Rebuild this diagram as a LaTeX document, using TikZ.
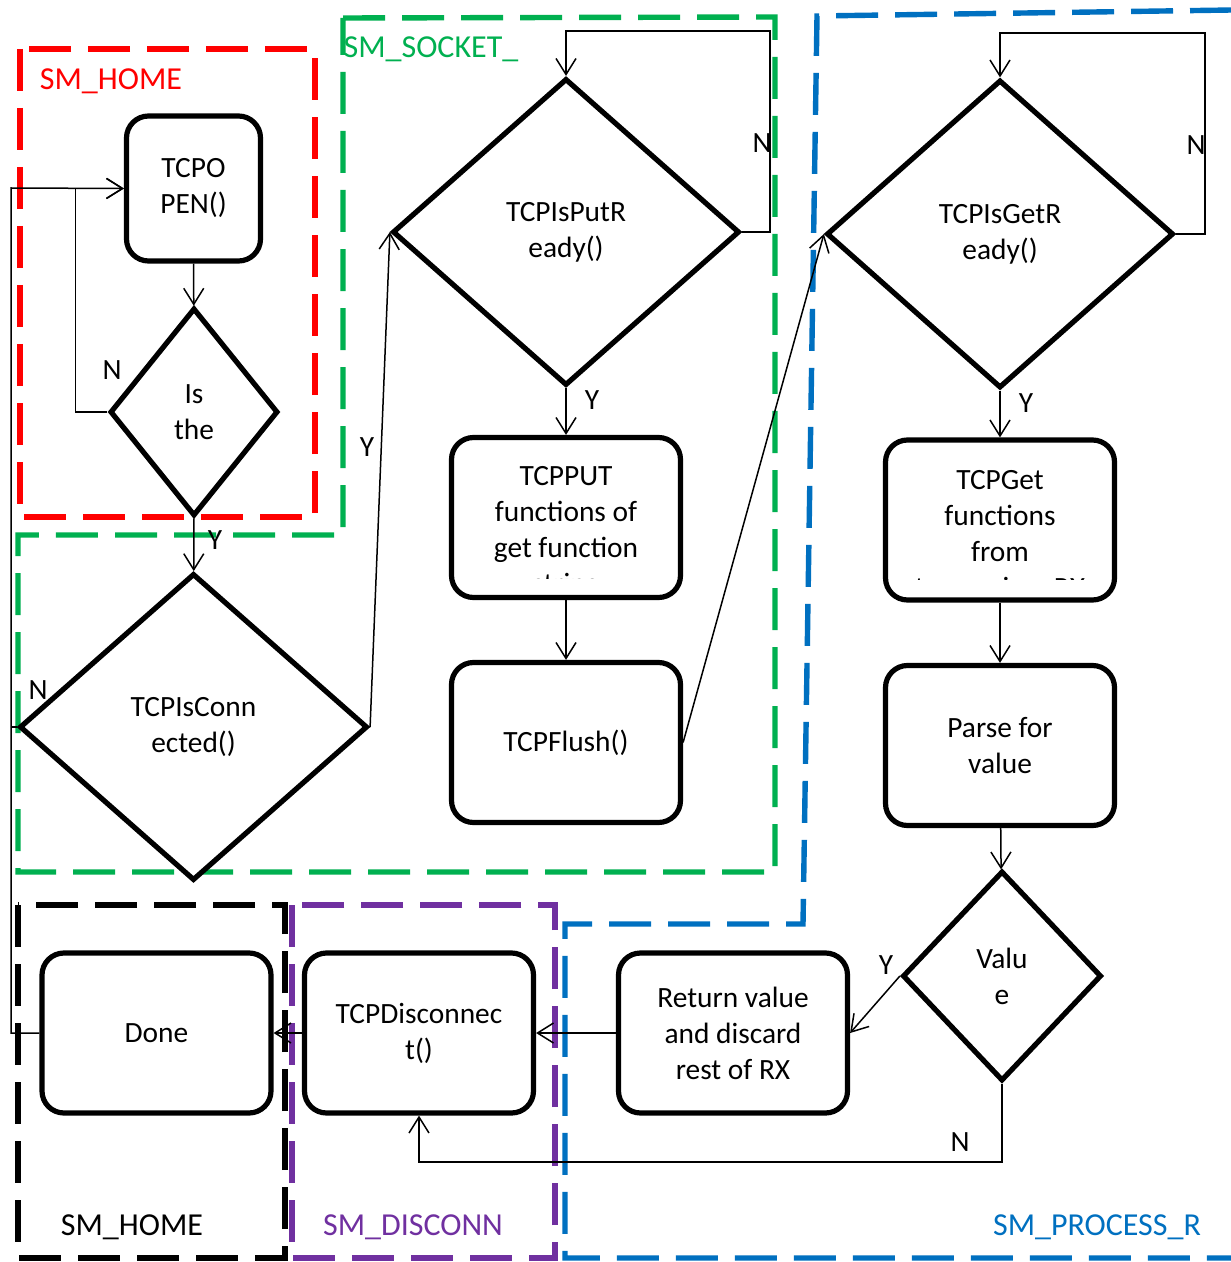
\documentclass[tikz,border=0pt]{standalone}
\usepackage{fontspec}
\setmainfont{Carlito}
\usetikzlibrary{shapes.geometric,arrows.meta}
\definecolor{cred}{RGB}{255,0,0}
\definecolor{cgreen}{RGB}{0,176,80}
\definecolor{cblue}{RGB}{0,112,192}
\definecolor{cpurple}{RGB}{112,48,160}
\newcommand{\fsmain}{\fontsize{14.7}{18}\selectfont}
\newcommand{\fsreg}{\fontsize{16}{19}\selectfont}
\begin{document}
\begin{tikzpicture}[x=0.5pt,y=-0.5pt,
  box/.style={draw, line width=2.6pt, rounded corners=11pt, fill=white, align=center, font=\fsmain, inner sep=0pt, minimum width=114.5pt, minimum height=80pt},
  dia/.style={draw, diamond, line width=2.6pt, fill=white, align=center, font=\fsmain, inner sep=0pt},
  txt/.style={align=center, font=\fsmain, inner sep=0pt},
  conn/.style={line width=0.75pt},
  arr/.style={conn, -{Straight Barb[length=8pt,width=10pt]}},
  region/.style={line width=2.7pt, dash pattern=on 21pt off 8.5pt},
  yn/.style={font=\fsmain, inner sep=0pt},
  reglabel/.style={font=\fsreg, inner sep=0pt}]
\useasboundingbox (0,0) rectangle (1230,1262);
\fill[white] (0,0) rectangle (1230,1262);

% regions
\draw[region,cred] (20,49) rectangle (315,517);
\draw[region,cgreen] (343,18) -- (775,17) -- (775,872) -- (18,872) -- (18,535) -- (343,535) -- cycle;
\draw[region,cblue] (1232,10) -- (817,16) -- (803,924) -- (565,924) -- (565,1258) -- (1232,1258);
\draw[region,black] (18,905) rectangle (285,1258);
\draw[region,cpurple] (292,905) rectangle (555,1258);

\node[reglabel,text=cred] (lhome) at (111,81) {SM\_HOME};
\node[reglabel,text=cgreen] (lsock) at (431,49) {SM\_SOCKET\_};
\node[reglabel,text=black] (lhome2) at (132,1227) {SM\_HOME};
\node[reglabel,text=cpurple] (ldisc) at (413,1227) {SM\_DISCONN};
\node[reglabel,text=cblue] (lproc) at (1097,1227) {SM\_PROCESS\_R};

% nodes
\node[box, minimum width=67pt, minimum height=72.5pt] (open) at (193.5,188.5) {TCPO\\PEN()};
\node[dia, minimum width=84pt, minimum height=104pt] (isthe) at (194,412) {Is\\the};
\node[dia, minimum width=174pt, minimum height=153.5pt] (con) at (193.5,727) {TCPIsConn\\ected()};
\node[dia, minimum width=173.5pt, minimum height=153.5pt] (put) at (566,232) {TCPIsPutR\\eady()};
\node[box] (tput) at (566,517.5) {};
\begin{scope}
  \clip (451,440) rectangle (681,578);
  \node[txt] (tputtxt) at (566,532) {TCPPUT\\functions of\\get function\\string};
\end{scope}
\node[box] (flush) at (566,742.5) {TCPFlush()};
\node[dia, minimum width=173.5pt, minimum height=154pt] (get) at (1000,234) {TCPIsGetR\\eady()};
\node[box] (tget) at (1000,520) {};
\begin{scope}
  \clip (885,442) rectangle (1115,579);
  \node[txt] (tgettxt) at (1000,534) {TCPGet\\functions\\from\\transceiver RX};
\end{scope}
\node[box] (parse) at (1000,745.5) {Parse for\\value};
\node[dia, minimum width=99.5pt, minimum height=105pt] (val) at (1002,976) {Valu\\e};
\node[box] (ret) at (733,1033) {Return value\\and discard\\rest of RX};
\node[box] (disc) at (419,1033) {TCPDisconnec\\t()};
\node[box] (done) at (156.5,1033) {Done};

% connectors
\coordinate (lft) at (11,188);
\coordinate (putloop) at (770,31);
\coordinate (getloop) at (1205,33);
\coordinate (nline) at (0,1162);

\draw[arr] (open) -- (isthe);
\draw[arr] (isthe.west) -- ++(-32,0) |- (open.west);
\draw[arr] (isthe) -- (con);
\draw[arr] (done.west) -- (done.west -| lft) -- (lft) -- (open.west);
\draw[conn] (con.west) -- (con.west -| lft);
\draw[arr] (con.east) -- (put.west);
\draw[arr] (put.east) -| (putloop) -| (put.north);
\draw[arr] (put) -- (tput);
\draw[arr] (tput) -- (flush);
\draw[arr] (flush.east) -- (get.west);
\draw[arr] (get.east) -| (getloop) -| (get.north);
\draw[arr] (get) -- (tget);
\draw[arr] (tget) -- (parse);
\draw[arr] (parse) -- (val);
\draw[arr] (val.west) -- (ret.east);
\draw[arr] (val.south) -- (val.south |- nline) -| (disc.south);
\draw[arr] (ret) -- (disc);
\draw[arr] (disc) -- (done);

% Y/N labels
\node[yn] (n1) at (112,370) {N};
\node[yn] (y1) at (215,540) {Y};
\node[yn] (n2) at (38,690) {N};
\node[yn] (y2) at (367,447) {Y};
\node[yn] (n3) at (762,143) {N};
\node[yn] (y3) at (592,400) {Y};
\node[yn] (n4) at (1196,145) {N};
\node[yn] (y4) at (1026,403) {Y};
\node[yn] (y5) at (886,965) {Y};
\node[yn] (n5) at (960,1142) {N};
\end{tikzpicture}
\end{document}
